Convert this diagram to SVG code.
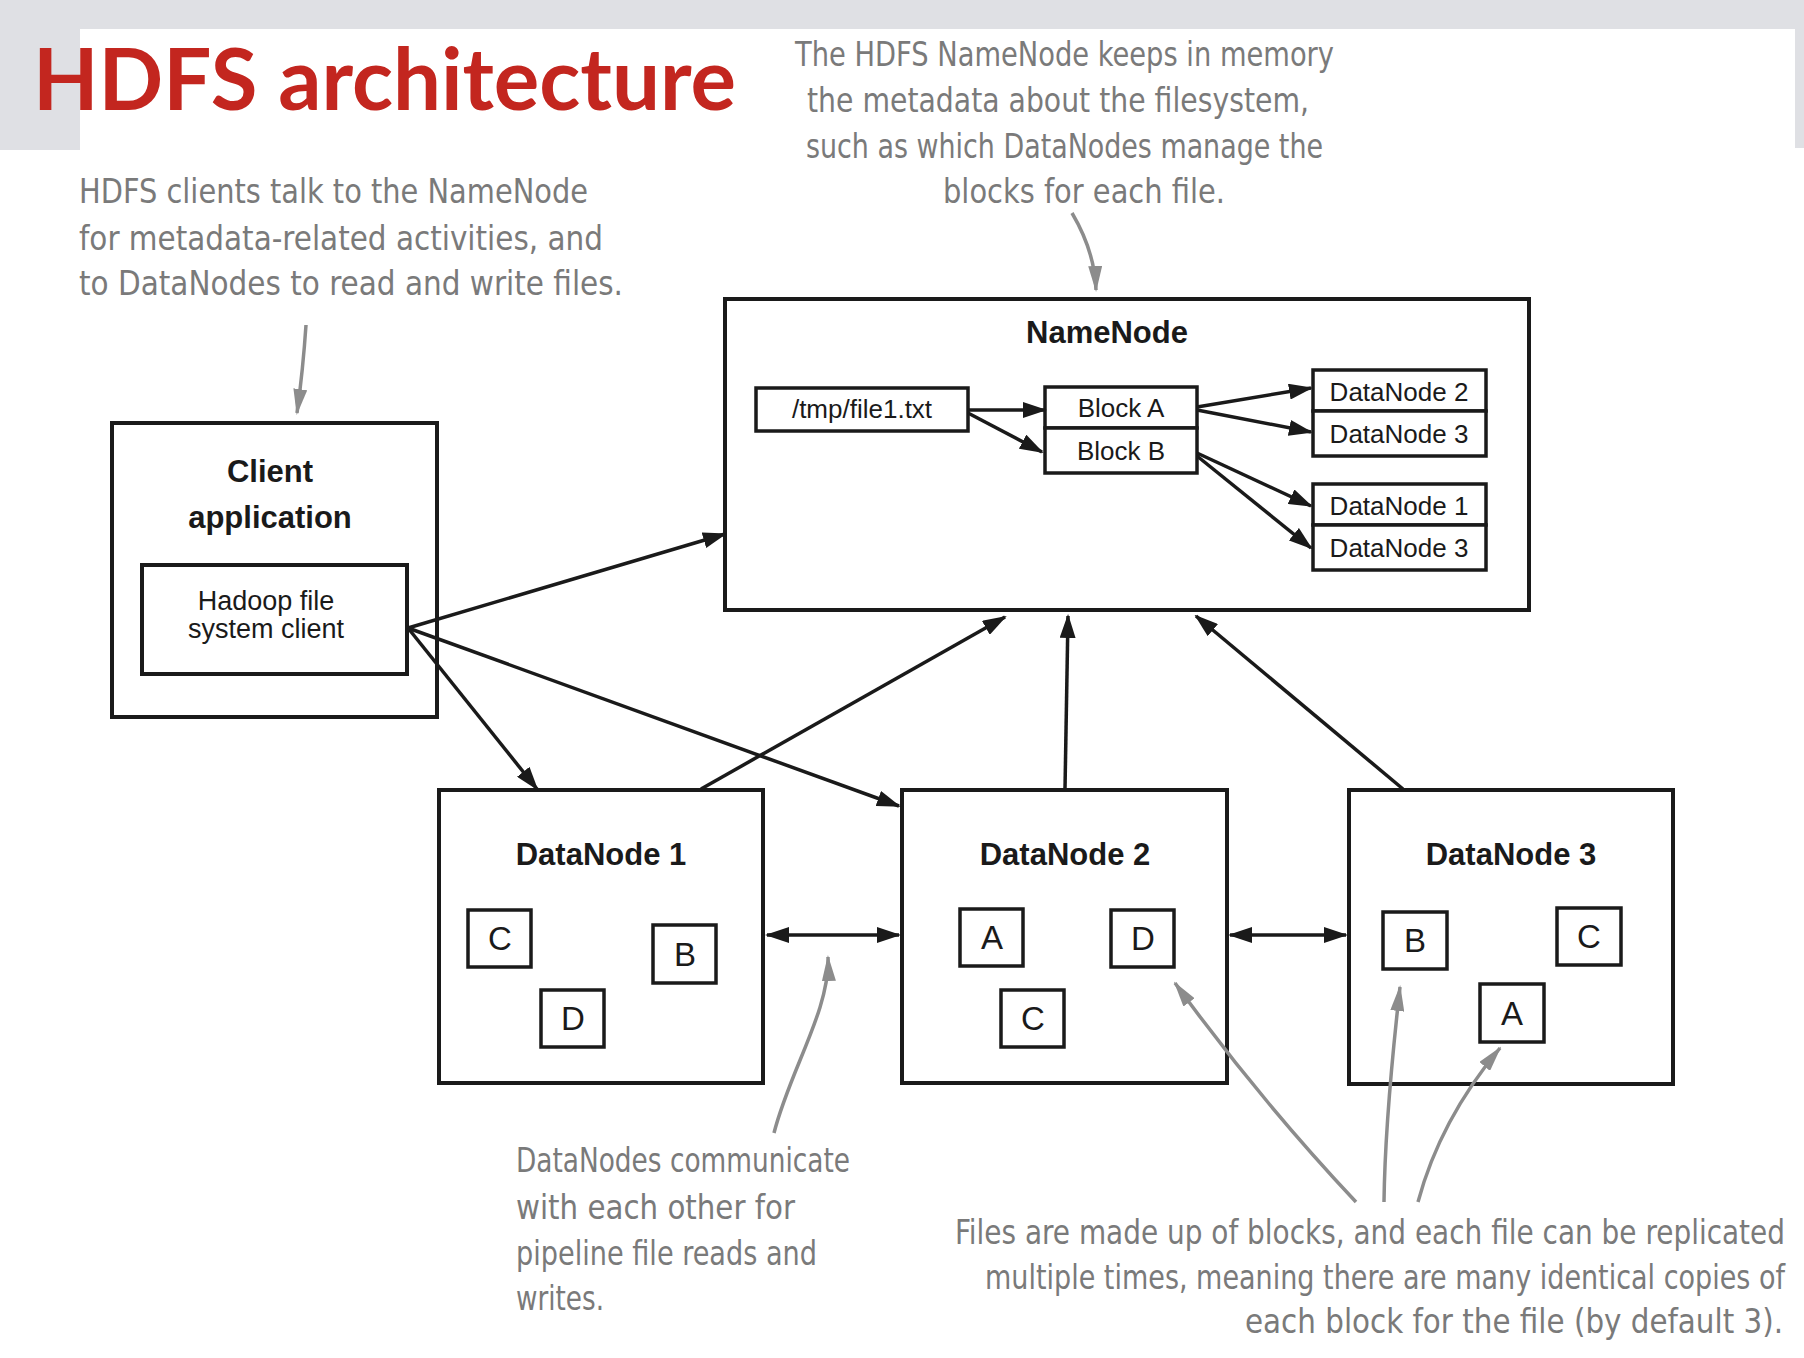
<svg xmlns="http://www.w3.org/2000/svg" width="1804" height="1358" viewBox="0 0 1804 1358">
<style>
.box{fill:#fff;stroke:#1a1a1a;stroke-width:4}
.sbox{fill:#fff;stroke:#1a1a1a;stroke-width:3.5}
.t{font-family:"Liberation Sans",Arial,sans-serif;fill:#1a1a1a}
.b{font-weight:bold}
.m{text-anchor:middle}
.note{font-family:"Liberation Sans Narrow","DejaVu Sans Condensed","Liberation Sans",sans-serif;fill:#7a7a7a;font-size:34px}
.con{stroke:#1a1a1a;stroke-width:3.5;fill:none}
.gcon{stroke:#8c8c8c;stroke-width:3.5;fill:none}
</style>
<defs>
<marker id="ah" markerUnits="userSpaceOnUse" markerWidth="24" markerHeight="16" refX="22" refY="8" orient="auto-start-reverse" viewBox="0 0 24 16"><path d="M0,0 L24,8 L0,16 Z" fill="#1a1a1a"/></marker>
<marker id="gh" markerUnits="userSpaceOnUse" markerWidth="26" markerHeight="14" refX="24" refY="7" orient="auto" viewBox="0 0 26 14"><path d="M0,0 L26,7 L0,14 Z" fill="#8c8c8c"/></marker>
</defs>
<rect x="0" y="0" width="1804" height="1358" fill="#fff"/>
<rect x="0" y="0" width="1804" height="150" fill="#dfe0e4"/>
<rect x="80" y="29" width="1715" height="121" fill="#fff"/>
<rect x="80" y="148" width="1724" height="4" fill="#fff"/>
<text x="33" y="110" font-family="Lato,'Liberation Sans',sans-serif" font-weight="bold" font-size="86" fill="#c3261f" textLength="703" lengthAdjust="spacingAndGlyphs">HDFS architecture</text>

<g id="note-client">
<text class="note" x="79" y="203" textLength="509" lengthAdjust="spacingAndGlyphs">HDFS clients talk to the NameNode</text>
<text class="note" x="79" y="250" textLength="524" lengthAdjust="spacingAndGlyphs">for metadata-related activities, and</text>
<text class="note" x="79" y="295" textLength="544" lengthAdjust="spacingAndGlyphs">to DataNodes to read and write files.</text>
</g>
<g id="note-namenode">
<text class="note" x="795" y="66" textLength="539" lengthAdjust="spacingAndGlyphs">The HDFS NameNode keeps in memory</text>
<text class="note" x="807" y="112" textLength="502" lengthAdjust="spacingAndGlyphs">the metadata about the filesystem,</text>
<text class="note" x="806" y="158" textLength="517" lengthAdjust="spacingAndGlyphs">such as which DataNodes manage the</text>
<text class="note" x="943" y="203" textLength="282" lengthAdjust="spacingAndGlyphs">blocks for each file.</text>
</g>
<g id="note-datanodes">
<text class="note" x="516" y="1172" textLength="334" lengthAdjust="spacingAndGlyphs">DataNodes communicate</text>
<text class="note" x="516" y="1219" textLength="279" lengthAdjust="spacingAndGlyphs">with each other for</text>
<text class="note" x="516" y="1265" textLength="301" lengthAdjust="spacingAndGlyphs">pipeline file reads and</text>
<text class="note" x="516" y="1310" textLength="88" lengthAdjust="spacingAndGlyphs">writes.</text>
</g>
<g id="note-files">
<text class="note" x="955" y="1244" textLength="830" lengthAdjust="spacingAndGlyphs">Files are made up of blocks, and each file can be replicated</text>
<text class="note" x="985" y="1289" textLength="800" lengthAdjust="spacingAndGlyphs">multiple times, meaning there are many identical copies of</text>
<text class="note" x="1245" y="1333" textLength="538" lengthAdjust="spacingAndGlyphs">each block for the file (by default 3).</text>
</g>

<g id="client">
<rect class="box" x="112" y="423" width="325" height="294"/>
<text class="t b m" x="270" y="482" font-size="31">Client</text>
<text class="t b m" x="270" y="528" font-size="31">application</text>
<rect class="box" x="142" y="565" width="265" height="109"/>
<text class="t m" x="266" y="610" font-size="27">Hadoop file</text>
<text class="t m" x="266" y="638" font-size="27">system client</text>
</g>

<g id="namenode">
<rect class="box" x="725" y="299" width="804" height="311"/>
<text class="t b m" x="1107" y="343" font-size="31">NameNode</text>
<rect class="sbox" x="756" y="388" width="212" height="43"/>
<text class="t m" x="862" y="418" font-size="26">/tmp/file1.txt</text>
<rect class="sbox" x="1045" y="387" width="152" height="41"/>
<text class="t m" x="1121" y="417" font-size="26">Block A</text>
<rect class="sbox" x="1045" y="428" width="152" height="45"/>
<text class="t m" x="1121" y="460" font-size="26">Block B</text>
<rect class="sbox" x="1313" y="370" width="173" height="41"/>
<text class="t m" x="1399" y="401" font-size="26">DataNode 2</text>
<rect class="sbox" x="1313" y="411" width="173" height="45"/>
<text class="t m" x="1399" y="443" font-size="26">DataNode 3</text>
<rect class="sbox" x="1313" y="484" width="173" height="41"/>
<text class="t m" x="1399" y="515" font-size="26">DataNode 1</text>
<rect class="sbox" x="1313" y="525" width="173" height="45"/>
<text class="t m" x="1399" y="557" font-size="26">DataNode 3</text>
</g>

<g id="datanode1">
<rect class="box" x="439" y="790" width="324" height="293"/>
<text class="t b m" x="601" y="865" font-size="31">DataNode 1</text>
<rect class="sbox" x="468" y="910" width="63" height="57"/>
<text class="t m" x="500" y="950" font-size="33">C</text>
<rect class="sbox" x="653" y="925" width="63" height="58"/>
<text class="t m" x="685" y="966" font-size="33">B</text>
<rect class="sbox" x="541" y="990" width="63" height="57"/>
<text class="t m" x="573" y="1030" font-size="33">D</text>
</g>

<g id="datanode2">
<rect class="box" x="902" y="790" width="325" height="293"/>
<text class="t b m" x="1065" y="865" font-size="31">DataNode 2</text>
<rect class="sbox" x="960" y="909" width="63" height="57"/>
<text class="t m" x="992" y="949" font-size="33">A</text>
<rect class="sbox" x="1111" y="910" width="63" height="57"/>
<text class="t m" x="1143" y="950" font-size="33">D</text>
<rect class="sbox" x="1001" y="990" width="63" height="57"/>
<text class="t m" x="1033" y="1030" font-size="33">C</text>
</g>

<g id="datanode3">
<rect class="box" x="1349" y="790" width="324" height="294"/>
<text class="t b m" x="1511" y="865" font-size="31">DataNode 3</text>
<rect class="sbox" x="1383" y="912" width="64" height="57"/>
<text class="t m" x="1415" y="952" font-size="33">B</text>
<rect class="sbox" x="1557" y="908" width="64" height="57"/>
<text class="t m" x="1589" y="948" font-size="33">C</text>
<rect class="sbox" x="1480" y="984" width="64" height="58"/>
<text class="t m" x="1512" y="1025" font-size="33">A</text>
</g>

<g id="connectors">
<path class="con" d="M968,410 L1045,410" marker-end="url(#ah)"/>
<path class="con" d="M968,413 L1042,452" marker-end="url(#ah)"/>
<path class="con" d="M1197,407 L1311,388" marker-end="url(#ah)"/>
<path class="con" d="M1197,410 L1311,432" marker-end="url(#ah)"/>
<path class="con" d="M1197,453 L1311,506" marker-end="url(#ah)"/>
<path class="con" d="M1197,456 L1311,548" marker-end="url(#ah)"/>
<path class="con" d="M408,628 L725,534" marker-end="url(#ah)"/>
<path class="con" d="M408,628 L537,789" marker-end="url(#ah)"/>
<path class="con" d="M408,628 L899,806" marker-end="url(#ah)"/>
<path class="con" d="M701,789 L1005,617" marker-end="url(#ah)"/>
<path class="con" d="M1065,789 L1068,616" marker-end="url(#ah)"/>
<path class="con" d="M1403,789 L1196,616" marker-end="url(#ah)"/>
<path class="con" d="M767,935 L899,935" marker-start="url(#ah)" marker-end="url(#ah)"/>
<path class="con" d="M1230,935 L1346,935" marker-start="url(#ah)" marker-end="url(#ah)"/>
<path class="gcon" d="M306,325 Q303,370 297,413" marker-end="url(#gh)"/>
<path class="gcon" d="M1072,213 C1085,235 1095,260 1096,290" marker-end="url(#gh)"/>
<path class="gcon" d="M774,1133 C790,1070 830,1010 828,957" marker-end="url(#gh)"/>
<path class="gcon" d="M1356,1202 Q1260,1100 1175,983" marker-end="url(#gh)"/>
<path class="gcon" d="M1384,1202 Q1385,1120 1400,987" marker-end="url(#gh)"/>
<path class="gcon" d="M1418,1202 Q1440,1120 1500,1048" marker-end="url(#gh)"/>
</g>
</svg>
